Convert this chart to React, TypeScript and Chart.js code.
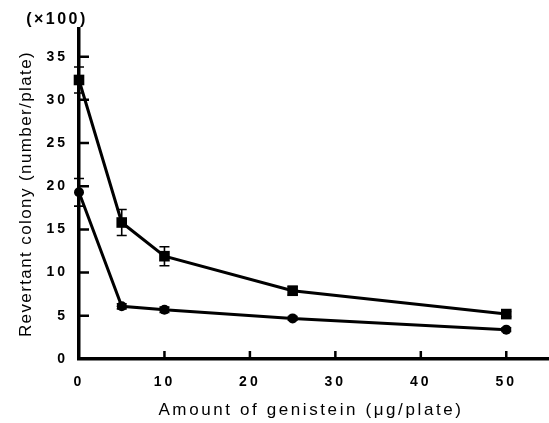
import React, { useEffect, useRef } from 'react';
import { Chart, registerables } from 'chart.js';

Chart.register(...registerables);

// Data (genistein dose in µg/plate, revertant colonies ×100)
const doses = [0, 5, 10, 25, 50];
const squareSeries = [32.3, 15.8, 11.9, 7.9, 5.2];
const squareErr = [1.5, 1.5, 1.1, 0.5, 0.3];
const circleSeries = [19.3, 6.1, 5.7, 4.7, 3.4];
const circleErr = [1.6, 0.3, 0.3, 0.2, 0.2];
const xTickValues = [0, 10, 20, 30, 40, 50];
const yTickValues = [0, 5, 10, 15, 20, 25, 30, 35];

const xTitle = 'Amount of genistein (\u03bcg/plate)';
const yTitle = 'Revertant colony (number/plate)';
const unitLabel = '(\u00d7100)';

const FONT = '"Liberation Sans", Arial, Helvetica, sans-serif';

const errorBarPlugin = {
  id: 'errorBars',
  beforeDatasetsDraw(chart: any) {
    const ctx = chart.ctx;
    const xs = chart.scales.x;
    const ys = chart.scales.y;
    const sets = [
      { vals: squareSeries, errs: squareErr },
      { vals: circleSeries, errs: circleErr },
    ];
    ctx.save();
    ctx.strokeStyle = '#000';
    ctx.lineWidth = 1.6;
    sets.forEach(({ vals, errs }) => {
      vals.forEach((v, i) => {
        const x = xs.getPixelForValue(doses[i]);
        const yt = ys.getPixelForValue(v + errs[i]);
        const yb = ys.getPixelForValue(v - errs[i]);
        ctx.beginPath();
        ctx.moveTo(x, yt);
        ctx.lineTo(x, yb);
        ctx.moveTo(x - 5, yt);
        ctx.lineTo(x + 5, yt);
        ctx.moveTo(x - 5, yb);
        ctx.lineTo(x + 5, yb);
        ctx.stroke();
      });
    });
    ctx.restore();
  },
};

const decorPlugin = {
  id: 'decor',
  beforeDraw(chart: any) {
    (chart.ctx as any).letterSpacing = '3px';
  },
  afterDraw(chart: any) {
    const ctx = chart.ctx;
    const xs = chart.scales.x;
    const ys = chart.scales.y;
    const area = chart.chartArea;
    ctx.save();
    ctx.strokeStyle = '#000';
    ctx.lineWidth = 2.5;
    ctx.beginPath();
    yTickValues.forEach((v) => {
      if (v === 0) return;
      const y = ys.getPixelForValue(v);
      ctx.moveTo(area.left, y);
      ctx.lineTo(area.left + 10, y);
    });
    xTickValues.forEach((v) => {
      if (v === 0) return;
      const x = xs.getPixelForValue(v);
      ctx.moveTo(x, area.bottom);
      ctx.lineTo(x, area.bottom - 8);
    });
    ctx.stroke();

    ctx.fillStyle = '#000';
    ctx.textAlign = 'center';
    ctx.textBaseline = 'middle';

    (ctx as any).letterSpacing = '2.6px';
    ctx.font = `17px ${FONT}`;
    ctx.fillText(xTitle, 311, 410);

    (ctx as any).letterSpacing = '1.4px';
    ctx.save();
    ctx.translate(26, 194);
    ctx.rotate(-Math.PI / 2);
    ctx.fillText(yTitle, 0, 0);
    ctx.restore();

    (ctx as any).letterSpacing = '2.5px';
    ctx.font = `bold 16px ${FONT}`;
    ctx.fillText(unitLabel, 57, 20);
    ctx.restore();
    (ctx as any).letterSpacing = '0px';
  },
};

export default function App() {
  const ref = useRef<HTMLCanvasElement | null>(null);
  useEffect(() => {
    if (!ref.current) return;
    const chart = new Chart(ref.current, {
      type: 'line',
      data: {
        datasets: [
          {
            label: 'squares',
            data: doses.map((d, i) => ({ x: d, y: squareSeries[i] })),
            borderColor: '#000',
            backgroundColor: '#000',
            borderWidth: 3,
            pointStyle: 'rect',
            pointRadius: 7.5,
            pointBorderWidth: 0,
            tension: 0,
            clip: false as any,
          },
          {
            label: 'circles',
            data: doses.map((d, i) => ({ x: d, y: circleSeries[i] })),
            borderColor: '#000',
            backgroundColor: '#000',
            borderWidth: 3,
            pointStyle: 'circle',
            pointRadius: 5,
            pointBorderWidth: 0,
            tension: 0,
            clip: false as any,
          },
        ],
      },
      options: {
        responsive: false,
        animation: false,
        devicePixelRatio: 1,
        layout: { autoPadding: false, padding: { top: 29, left: 0, right: 0, bottom: 0 } },
        plugins: {
          legend: { display: false },
          tooltip: { enabled: false },
          title: { display: false },
        },
        scales: {
          x: {
            type: 'linear',
            min: 0,
            max: 55,
            afterFit: (s: any) => {
              s.height = 64;
              s.paddingLeft = 0;
              s.paddingRight = 0;
            },
            afterBuildTicks: (s: any) => {
              s.ticks = xTickValues.map((v) => ({ value: v }));
            },
            grid: { display: true, drawOnChartArea: false, drawTicks: false, tickLength: 0 },
            border: { display: true, color: '#000', width: 3.5 },
            ticks: {
              color: '#000',
              padding: 15,
              maxRotation: 0,
              autoSkip: false,
              font: { family: FONT, size: 14, weight: 'bold' },
            },
          },
          y: {
            type: 'linear',
            min: 0,
            max: 38.2,
            afterFit: (s: any) => {
              s.width = 79;
              s.paddingTop = 0;
              s.paddingBottom = 0;
            },
            afterBuildTicks: (s: any) => {
              s.ticks = yTickValues.map((v) => ({ value: v }));
            },
            grid: { display: true, drawOnChartArea: false, drawTicks: false, tickLength: 0 },
            border: { display: true, color: '#000', width: 3.5 },
            ticks: {
              color: '#000',
              padding: 11,
              autoSkip: false,
              font: { family: FONT, size: 14, weight: 'bold' },
            },
          },
        },
      } as any,
      plugins: [errorBarPlugin, decorPlugin],
    });
    return () => chart.destroy();
  }, []);
  return (
    <div style={{ position: 'fixed', left: 0, top: 0, width: 549, height: 423, background: '#fff' }}>
      <canvas ref={ref} width={549} height={423} style={{ width: 549, height: 423, display: 'block' }} />
    </div>
  );
}
